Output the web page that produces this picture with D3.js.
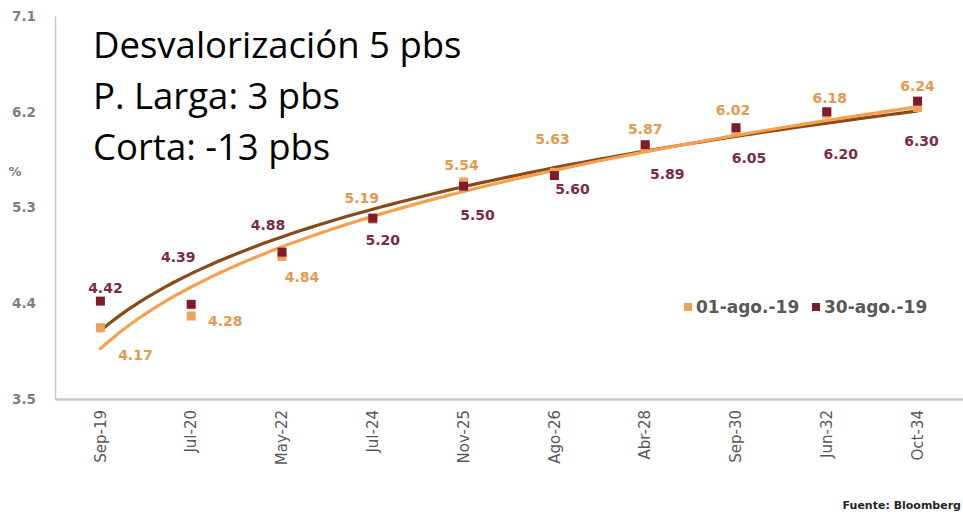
<!DOCTYPE html>
<html>
<head>
<meta charset="utf-8">
<script src="https://d3js.org/d3.v7.min.js"></script>
<style>
  html, body { margin: 0; padding: 0; background: #ffffff; }
  svg { display: block; }
</style>
</head>
<body>
<svg id="chart" width="963" height="512"></svg>
<script>
// ---------------- DATA ----------------
const categories = ["Sep-19", "Jul-20", "May-22", "Jul-24", "Nov-25", "Ago-26", "Abr-28", "Sep-30", "Jun-32", "Oct-34"];
const seriesNames = ["01-ago.-19", "30-ago.-19"];
const valuesAug01 = [4.17, 4.28, 4.84, 5.19, 5.54, 5.63, 5.87, 6.02, 6.18, 6.24];
const valuesAug30 = [4.42, 4.39, 4.88, 5.20, 5.50, 5.60, 5.89, 6.05, 6.20, 6.30];
const yTicks = [3.5, 4.4, 5.3, 6.2, 7.1];
const noteLines = ["Desvalorización 5 pbs", "P. Larga: 3 pbs", "Corta: -13 pbs"];
const sourceText = "Fuente: Bloomberg";

// ---------------- LAYOUT / STYLE ----------------
const colors = { aug01: "#F0A15A", aug30: "#7E1C2C", trend01: "#F4A04E", trend30: "#8A4A17",
                 lab01: "#E49A4E", lab30: "#7C2A48", axisText: "#7F7F7F", tickText: "#595959" };
// label offsets (px) from the marker centre, per point
const labOff01 = [[35,27],[34,5],[20,21],[-11,-21],[-2,-17],[-2,-33],[0,-18],[-3,-21],[3,-16],[0,-21]];
const labOff30 = [[5,-13],[-13,-47],[-14,-27],[10,22],[14,29],[18,14],[22,29],[13,30],[14,42],[4,40]];

// power trend line (Excel-style: least squares of ln y on ln n, n = 1..N)
function powerFit(vals) {
  const lx = vals.map((d, i) => Math.log(i + 1)), ly = vals.map(d => Math.log(d));
  const mx = d3.mean(lx), my = d3.mean(ly);
  const b = d3.sum(lx, (v, i) => (v - mx) * (ly[i] - my)) / d3.sum(lx, v => (v - mx) * (v - mx));
  const A = Math.exp(my - b * mx);
  return n => A * Math.pow(n, b);
}

const svg = d3.select("#chart");
const plot = { left: 55, right: 963, top: 16, bottom: 399 };

const x = d3.scaleBand().domain(categories).range([plot.left, plot.right]).padding(0);
const y = d3.scaleLinear().domain([3.5, 7.1]).range([plot.bottom, plot.top]);
const cx = c => x(c) + x.bandwidth() / 2;
const xIdx = d3.scaleLinear().domain([1, categories.length]).range([cx(categories[0]), cx(categories[categories.length - 1])]);

// Y axis
const yAxis = d3.axisLeft(y).tickValues(yTicks).tickSize(0).tickPadding(19).tickFormat(d3.format(".1f"));
const gy = svg.append("g").attr("transform", `translate(${plot.left},0)`).call(yAxis);
gy.select(".domain").attr("stroke", "#C8C8C8").attr("stroke-width", 1.5);
gy.selectAll("text").attr("font-family", "DejaVu Sans").attr("font-weight", "bold")
  .attr("font-size", 13.5).attr("fill", colors.axisText);

svg.append("text").attr("x", 15).attr("y", 171).attr("dy", "0.35em").attr("text-anchor", "middle")
  .attr("font-family", "DejaVu Sans").attr("font-weight", "bold").attr("font-size", 13)
  .attr("fill", colors.axisText).text("%");

// X axis
const xAxis = d3.axisBottom(x).tickSize(0).tickPadding(0);
const gx = svg.append("g").attr("transform", `translate(0,${plot.bottom})`).call(xAxis);
gx.select(".domain").attr("stroke", "#C8C8C8").attr("stroke-width", 2.5);
gx.selectAll("text")
  .attr("font-family", "DejaVu Sans").attr("font-size", 15).attr("fill", colors.tickText)
  .attr("text-anchor", "end").attr("transform", "rotate(-90)")
  .attr("x", -11).attr("y", 0).attr("dy", "0.35em");

// Trend lines
const samples = d3.range(1, categories.length + 0.001, 0.1);
const trendLine = f => d3.line().x(n => xIdx(n)).y(n => y(f(n)))(samples);
svg.append("path").attr("d", trendLine(powerFit(valuesAug30))).attr("fill", "none")
  .attr("stroke", colors.trend30).attr("stroke-width", 3.2).attr("stroke-linecap", "round");
svg.append("path").attr("d", trendLine(powerFit(valuesAug01))).attr("fill", "none")
  .attr("stroke", colors.trend01).attr("stroke-width", 3.2).attr("stroke-linecap", "round");

// Markers
const ms = 9;
svg.append("g").selectAll("rect").data(valuesAug01).join("rect")
  .attr("x", (d, i) => cx(categories[i]) - ms / 2).attr("y", d => y(d) - ms / 2)
  .attr("width", ms).attr("height", ms).attr("fill", colors.aug01);
svg.append("g").selectAll("rect").data(valuesAug30).join("rect")
  .attr("x", (d, i) => cx(categories[i]) - ms / 2).attr("y", d => y(d) - ms / 2)
  .attr("width", ms).attr("height", ms).attr("fill", colors.aug30);

// Data labels
const fmt = d3.format(".2f");
function labels(vals, offs, col) {
  svg.append("g").selectAll("text").data(vals).join("text")
    .attr("x", (d, i) => cx(categories[i]) + offs[i][0])
    .attr("y", (d, i) => y(d) + offs[i][1])
    .attr("dy", "0.35em").attr("text-anchor", "middle")
    .attr("font-family", "DejaVu Sans").attr("font-weight", "bold").attr("font-size", 14)
    .attr("fill", col).text(d => fmt(d));
}
labels(valuesAug01, labOff01, colors.lab01);
labels(valuesAug30, labOff30, colors.lab30);

// Legend
const leg = svg.append("g").attr("font-family", "DejaVu Sans").attr("font-weight", "bold").attr("font-size", 17);
const legItems = [{ name: seriesNames[0], col: colors.aug01, x: 684 }, { name: seriesNames[1], col: colors.aug30, x: 812 }];
legItems.forEach(it => {
  leg.append("rect").attr("x", it.x).attr("y", 303).attr("width", 8).attr("height", 8).attr("fill", it.col);
  leg.append("text").attr("x", it.x + 12).attr("y", 307).attr("dy", "0.35em").attr("fill", colors.tickText).text(it.name);
});

// Notes
svg.append("g").selectAll("text").data(noteLines).join("text")
  .attr("x", 93).attr("y", (d, i) => 58 + i * 51)
  .attr("font-family", "Open Sans").attr("font-size", 36.5).attr("fill", "#000000").text(d => d);

// Source
svg.append("text").attr("x", 961).attr("y", 505).attr("dy", "0.35em").attr("text-anchor", "end")
  .attr("font-family", "DejaVu Sans").attr("font-weight", "bold").attr("font-size", 11)
  .attr("fill", "#262626").text(sourceText);
</script>
</body>
</html>
